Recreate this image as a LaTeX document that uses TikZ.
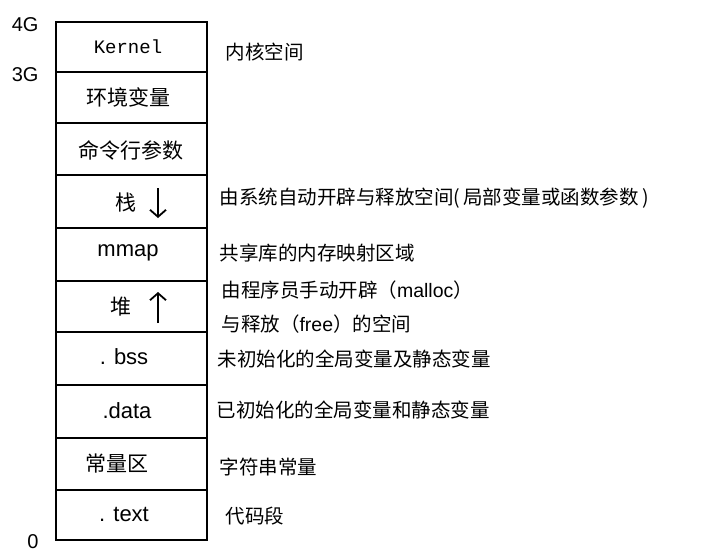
\documentclass[tikz,border=0pt]{standalone}
\usepackage{fontspec}
\setmainfont{Liberation Sans}
\setmonofont{Liberation Mono}
\newfontfamily\cjk{Noto Sans CJK SC}
\usetikzlibrary{arrows.meta}
\begin{document}
\begin{tikzpicture}[x=1pt,y=-1pt,
    % 區段文字
    seglabel/.style={font=\cjk\fontsize{21}{24}\selectfont},
    % 右側說明
    notelabel/.style={anchor=west,font=\cjk\fontsize{19.5}{22}\selectfont},
    % 左側位址
    addrlabel/.style={anchor=east,font=\fontsize{20}{22}\selectfont},
    % 增長方向
    growarrow/.style={line width=1.8pt,-{Straight Barb[length=7pt,width=16pt]}}
  ]
  \useasboundingbox (0,0) rectangle (715,554);
  % --- 外框 ---
  \draw[line width=1.6pt] (56,22) rectangle (207,540);
  % --- 分隔線 ---
  \foreach \y in {72,123,175,228,281,332,385,438,490}
    \draw[line width=1.6pt] (56,\y) -- (207,\y);
  % --- 區段 ---
  \node[font=\ttfamily\fontsize{19}{22}\selectfont] (kernel) at (128,47) {Kernel};
  \node[seglabel] (env)  at (128,97)  {环境变量};
  \node[seglabel] (args) at (131,150) {命令行参数};
  \node[seglabel] (stack) at (126,203) {栈};
  \node[font=\fontsize{22}{24}\selectfont] (mmap) at (128,253) {mmap};
  \node[seglabel] (heap) at (121,307) {堆};
  \node[font=\fontsize{22}{24}\selectfont] (bss)  at (124,357) {. bss};
  \node[font=\fontsize{22}{24}\selectfont] (data) at (127,411) {.data};
  \node[seglabel] (const) at (117,464) {常量区};
  \node[font=\fontsize{22}{24}\selectfont] (text) at (124,514) {. text};
  % --- 箭頭 ---
  \coordinate (sdtop) at (158,188);
  \coordinate (sdbot) at (158,218);
  \coordinate (hutop) at (158,292);
  \coordinate (hubot) at (158,323);
  \draw[growarrow] (sdtop) -- (sdbot);
  \draw[growarrow] (hubot) -- (hutop);
  % --- 位址 ---
  \node[addrlabel] (a4g) at (42,25)  {4G};
  \node[addrlabel] (a3g) at (42,75)  {3G};
  \node[addrlabel] (a0)  at (42,542) {0};
  % --- 說明 ---
  \node[notelabel] (nkernel) at (222,52)  {内核空间};
  \node[notelabel] (nstack)  at (216,198) {由系统自动开辟与释放空间({\,}局部变量或函数参数{\,})};
  \node[notelabel] (nmmap)   at (216,253) {共享库的内存映射区域};
  \node[notelabel] (nheap1)  at (218,290) {由程序员手动开辟（{\fontspec{Liberation Sans}malloc}）};
  \node[notelabel] (nheap2)  at (218,324) {与释放（{\fontspec{Liberation Sans}free}）的空间};
  \node[notelabel] (nbss)    at (214,359) {未初始化的全局变量及静态变量};
  \node[notelabel] (ndata)   at (213,410) {已初始化的全局变量和静态变量};
  \node[notelabel] (nconst)  at (216,467) {字符串常量};
  \node[notelabel] (ntext)   at (222,516) {代码段};
\end{tikzpicture}
\end{document}
